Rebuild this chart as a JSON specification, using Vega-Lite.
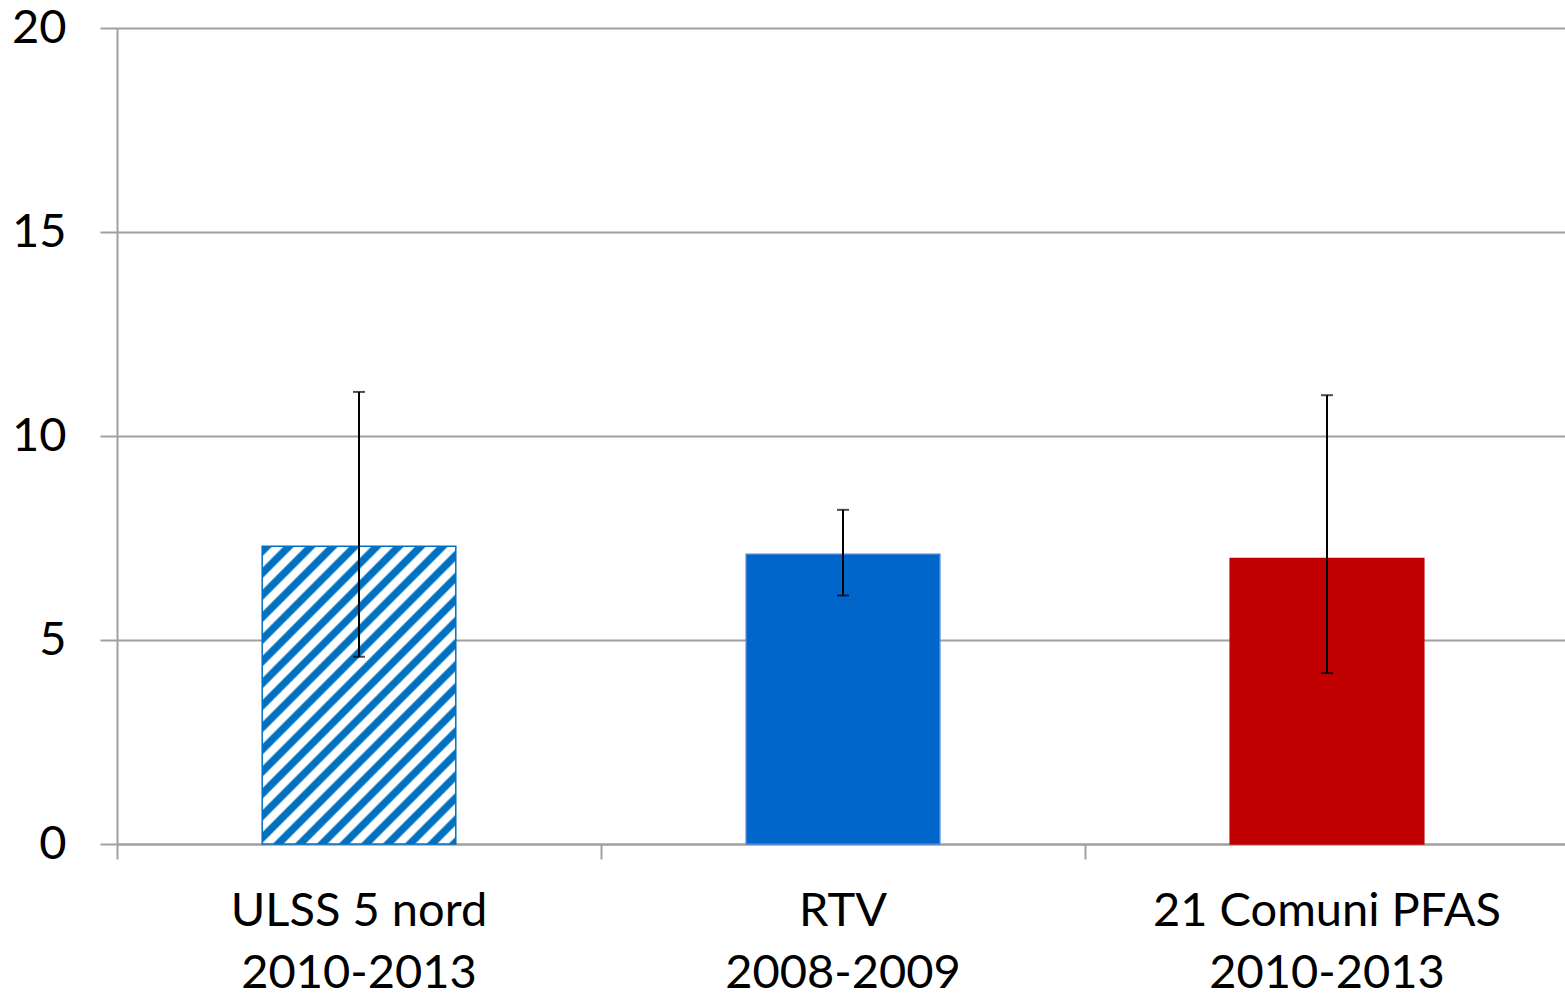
{
  "$schema": "https://vega.github.io/schema/vega-lite/v6.json",
  "width": 1452,
  "height": 816,
  "autosize": "none",
  "padding": {"left": 117, "top": 28, "right": 0, "bottom": 153},
  "background": "#ffffff",
  "config": {
    "view": {"stroke": null},
    "font": "Lato",
    "axisX": {
      "domainColor": "#A0A0A0", "domainWidth": 2,
      "tickColor": "#A0A0A0", "tickWidth": 2, "tickSize": 15,
      "labelFont": "Lato", "labelFontSize": 47, "labelColor": "#000000",
      "labelPadding": 29, "labelLineHeight": 62, "labelAngle": 0, "labelLimit": 0,
      "grid": false, "title": null
    },
    "axisY": {
      "domainColor": "#A0A0A0", "domainWidth": 2,
      "tickColor": "#A0A0A0", "tickWidth": 2, "tickSize": 17,
      "gridColor": "#A0A0A0", "gridWidth": 2,
      "labelFont": "Lato", "labelFontSize": 47, "labelColor": "#000000",
      "labelPadding": 34, "title": null
    }
  },
  "data": {
    "values": [
      {"gruppo": "ULSS 5 nord\n2010-2013", "tipo": "tratteggio", "valore": 7.3, "inf": 4.59, "sup": 11.08},
      {"gruppo": "RTV\n2008-2009", "tipo": "RTV", "valore": 7.1, "inf": 6.09, "sup": 8.19},
      {"gruppo": "21 Comuni PFAS\n2010-2013", "tipo": "PFAS", "valore": 7.0, "inf": 4.19, "sup": 11.0}
    ]
  },
  "encoding": {
    "x": {
      "field": "gruppo", "type": "nominal", "sort": null,
      "scale": {"paddingInner": 0, "paddingOuter": 0},
      "axis": {"bandPosition": 0, "labelExpr": "split(datum.label, '\\n')", "labelLimit": 0, "title": null}
    }
  },
  "layer": [
    {
      "transform": [{"filter": "datum.tipo == 'tratteggio'"}],
      "mark": {
        "type": "bar",
        "width": {"band": 0.4},
        "stroke": "#0070C0",
        "strokeWidth": 1.5,
        "fill": {
          "gradient": "linear",
          "x1": 0, "y1": 0, "x2": 0.77, "y2": 1.18,
          "stops": [
            {"offset": 0, "color": "#ffffff"},
            {"offset": 0.002, "color": "#0070C0"}, {"offset": 0.018, "color": "#0070C0"}, {"offset": 0.023, "color": "#ffffff"},
            {"offset": 0.041, "color": "#ffffff"}, {"offset": 0.046, "color": "#0070C0"}, {"offset": 0.062, "color": "#0070C0"}, {"offset": 0.067, "color": "#ffffff"},
            {"offset": 0.085, "color": "#ffffff"}, {"offset": 0.090, "color": "#0070C0"}, {"offset": 0.106, "color": "#0070C0"}, {"offset": 0.111, "color": "#ffffff"},
            {"offset": 0.129, "color": "#ffffff"}, {"offset": 0.134, "color": "#0070C0"}, {"offset": 0.150, "color": "#0070C0"}, {"offset": 0.155, "color": "#ffffff"},
            {"offset": 0.173, "color": "#ffffff"}, {"offset": 0.178, "color": "#0070C0"}, {"offset": 0.194, "color": "#0070C0"}, {"offset": 0.199, "color": "#ffffff"},
            {"offset": 0.217, "color": "#ffffff"}, {"offset": 0.222, "color": "#0070C0"}, {"offset": 0.238, "color": "#0070C0"}, {"offset": 0.243, "color": "#ffffff"},
            {"offset": 0.261, "color": "#ffffff"}, {"offset": 0.266, "color": "#0070C0"}, {"offset": 0.282, "color": "#0070C0"}, {"offset": 0.287, "color": "#ffffff"},
            {"offset": 0.305, "color": "#ffffff"}, {"offset": 0.310, "color": "#0070C0"}, {"offset": 0.326, "color": "#0070C0"}, {"offset": 0.331, "color": "#ffffff"},
            {"offset": 0.349, "color": "#ffffff"}, {"offset": 0.354, "color": "#0070C0"}, {"offset": 0.370, "color": "#0070C0"}, {"offset": 0.375, "color": "#ffffff"},
            {"offset": 0.393, "color": "#ffffff"}, {"offset": 0.398, "color": "#0070C0"}, {"offset": 0.414, "color": "#0070C0"}, {"offset": 0.419, "color": "#ffffff"},
            {"offset": 0.437, "color": "#ffffff"}, {"offset": 0.442, "color": "#0070C0"}, {"offset": 0.458, "color": "#0070C0"}, {"offset": 0.463, "color": "#ffffff"},
            {"offset": 0.481, "color": "#ffffff"}, {"offset": 0.486, "color": "#0070C0"}, {"offset": 0.502, "color": "#0070C0"}, {"offset": 0.507, "color": "#ffffff"},
            {"offset": 0.525, "color": "#ffffff"}, {"offset": 0.530, "color": "#0070C0"}, {"offset": 0.546, "color": "#0070C0"}, {"offset": 0.551, "color": "#ffffff"},
            {"offset": 0.569, "color": "#ffffff"}, {"offset": 0.574, "color": "#0070C0"}, {"offset": 0.590, "color": "#0070C0"}, {"offset": 0.595, "color": "#ffffff"},
            {"offset": 0.613, "color": "#ffffff"}, {"offset": 0.618, "color": "#0070C0"}, {"offset": 0.634, "color": "#0070C0"}, {"offset": 0.639, "color": "#ffffff"},
            {"offset": 0.657, "color": "#ffffff"}, {"offset": 0.662, "color": "#0070C0"}, {"offset": 0.678, "color": "#0070C0"}, {"offset": 0.683, "color": "#ffffff"},
            {"offset": 0.701, "color": "#ffffff"}, {"offset": 0.706, "color": "#0070C0"}, {"offset": 0.722, "color": "#0070C0"}, {"offset": 0.727, "color": "#ffffff"},
            {"offset": 0.745, "color": "#ffffff"}, {"offset": 0.750, "color": "#0070C0"}, {"offset": 0.766, "color": "#0070C0"}, {"offset": 0.771, "color": "#ffffff"},
            {"offset": 0.789, "color": "#ffffff"}, {"offset": 0.794, "color": "#0070C0"}, {"offset": 0.810, "color": "#0070C0"}, {"offset": 0.815, "color": "#ffffff"},
            {"offset": 0.833, "color": "#ffffff"}, {"offset": 0.838, "color": "#0070C0"}, {"offset": 0.854, "color": "#0070C0"}, {"offset": 0.859, "color": "#ffffff"},
            {"offset": 0.877, "color": "#ffffff"}, {"offset": 0.882, "color": "#0070C0"}, {"offset": 0.898, "color": "#0070C0"}, {"offset": 0.903, "color": "#ffffff"},
            {"offset": 0.921, "color": "#ffffff"}, {"offset": 0.926, "color": "#0070C0"}, {"offset": 0.942, "color": "#0070C0"}, {"offset": 0.947, "color": "#ffffff"},
            {"offset": 0.965, "color": "#ffffff"}, {"offset": 0.970, "color": "#0070C0"}, {"offset": 0.986, "color": "#0070C0"}, {"offset": 0.991, "color": "#ffffff"},
            {"offset": 1, "color": "#ffffff"}
          ]
        }
      },
      "encoding": {
        "y": {
          "field": "valore", "type": "quantitative",
          "scale": {"domain": [0, 20], "nice": false, "zero": true},
          "axis": {"values": [0, 5, 10, 15, 20], "grid": true, "title": null}
        }
      }
    },
    {
      "transform": [{"filter": "datum.tipo != 'tratteggio'"}],
      "mark": {"type": "bar", "width": {"band": 0.4}, "strokeWidth": 1.5},
      "encoding": {
        "y": {"field": "valore", "type": "quantitative"},
        "fill": {
          "field": "tipo", "type": "nominal",
          "scale": {"domain": ["RTV", "PFAS"], "range": ["#0066CC", "#C00000"]},
          "legend": null
        },
        "stroke": {
          "field": "tipo", "type": "nominal",
          "scale": {"domain": ["RTV", "PFAS"], "range": ["#3F84D6", "#C00000"]},
          "legend": null
        }
      }
    },
    {
      "mark": {"type": "rule", "color": "#000000", "strokeWidth": 2},
      "encoding": {
        "y": {"field": "inf", "type": "quantitative"},
        "y2": {"field": "sup"}
      }
    },
    {
      "mark": {"type": "tick", "color": "#000000", "size": 12, "thickness": 2, "orient": "horizontal"},
      "encoding": {
        "y": {"field": "inf", "type": "quantitative"}
      }
    },
    {
      "mark": {"type": "tick", "color": "#000000", "size": 12, "thickness": 2, "orient": "horizontal"},
      "encoding": {
        "y": {"field": "sup", "type": "quantitative"}
      }
    }
  ]
}
